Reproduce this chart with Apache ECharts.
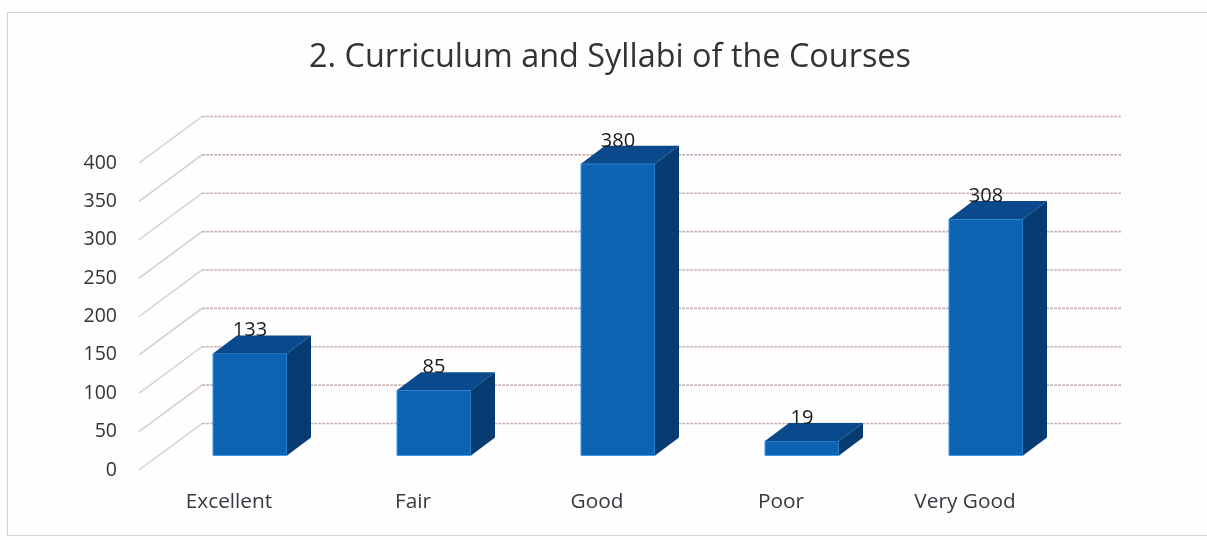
<!DOCTYPE html>
<html><head><meta charset="utf-8">
<style>html,body{margin:0;padding:0;background:#fff}#c{width:1207px;height:540px}</style>
<script src="https://cdn.jsdelivr.net/npm/echarts@6/dist/echarts.min.js"></script>
</head><body><div id="c"></div>
<script>
const categories = ['Excellent','Fair','Good','Poor','Very Good'];
const values = [133,85,380,19,308];
const ticks = [0,50,100,150,200,250,300,350,400];
const chart = echarts.init(document.getElementById('c'),null,{renderer:'canvas'});
const WALL_DX=63, WALL_DY=-46.5, BAR_IN_DX=19, BAR_IN_DY=-14.5, BAR_D_DX=24, BAR_D_DY=-18, BAR_W=74;
chart.setOption({
  animation:false,
  backgroundColor:'#fefefe',
  title:{text:'2. Curriculum and Syllabi of the Courses',left:610,textAlign:'center',top:42,padding:0,
    textStyle:{fontFamily:'Open Sans',fontSize:32.4,fontWeight:'normal',color:'#333333'}},
  graphic:[{type:'polyline',shape:{points:[[1207,12.5],[7.5,12.5],[7.5,535.5],[1207,535.5]]},style:{fill:'none',stroke:'#d2d2d4',lineWidth:1.2},silent:true}],
  grid:{left:139,width:920,top:163,height:307},
  xAxis:{type:'category',data:categories,axisLine:{show:false},axisTick:{show:false},
    axisLabel:{margin:22,padding:[0,4,0,0],fontFamily:'Open Sans',fontSize:20.8,color:'#383840'}},
  yAxis:{type:'value',min:0,max:400,interval:50,splitLine:{show:false},axisLine:{show:false},axisTick:{show:false},
    axisLabel:{margin:22,fontFamily:'Open Sans',fontSize:19.5,color:'#333338'}},
  series:[
   {type:'custom',coordinateSystem:'cartesian2d',z:1,silent:true,clip:false,
    data:ticks.map(t=>[0,t]),encode:{x:0,y:1},
    renderItem(p,api){
      const y=api.coord([0,api.value(1)])[1];
      const rect=p.coordSys;
      return {type:'group',children:[
        {type:'line',shape:{x1:rect.x,y1:y,x2:rect.x+WALL_DX,y2:y+WALL_DY},
          style:{stroke:'#d6cdc4',lineWidth:1.4}},
        {type:'line',shape:{x1:rect.x+WALL_DX,y1:y+WALL_DY,x2:rect.x+rect.width+WALL_DX,y2:y+WALL_DY},
          style:{stroke:'#c8b6b4',lineWidth:1.6,lineDash:[3,1]}}
      ]};
    }},
   {type:'custom',coordinateSystem:'cartesian2d',z:2,silent:true,clip:false,
    data:values.map((v,i)=>[i,v]),encode:{x:0,y:1},
    renderItem(p,api){
      const i=api.value(0),v=api.value(1);
      const top=api.coord([i,v]),base=api.coord([i,0]);
      const x0=top[0]-BAR_W/2+BAR_IN_DX,x1=x0+BAR_W;
      const yt=top[1]+BAR_IN_DY,yb=base[1]+BAR_IN_DY;
      const dx=BAR_D_DX,dy=BAR_D_DY;
      return {type:'group',children:[
        {type:'rect',shape:{x:x0,y:yt,width:BAR_W,height:yb-yt},
          style:{fill:'#0d63b2',stroke:'#3a9be6',lineWidth:1}},
        {type:'polygon',shape:{points:[[x0,yt],[x0+dx,yt+dy],[x1+dx,yt+dy],[x1,yt]]},style:{fill:'#0a4a8c'}},
        {type:'polygon',shape:{points:[[x1,yt],[x1+dx,yt+dy],[x1+dx,yb+dy],[x1,yb]]},style:{fill:'#073c72'}},
        {type:'text',z2:5,style:{text:String(v),x:x0+BAR_W/2,y:yt-23,align:'center',verticalAlign:'middle',
          fontFamily:'Open Sans',fontSize:20,fill:'#1a1a1a'}}
      ]};
    }}
  ]
});
</script></body></html>
